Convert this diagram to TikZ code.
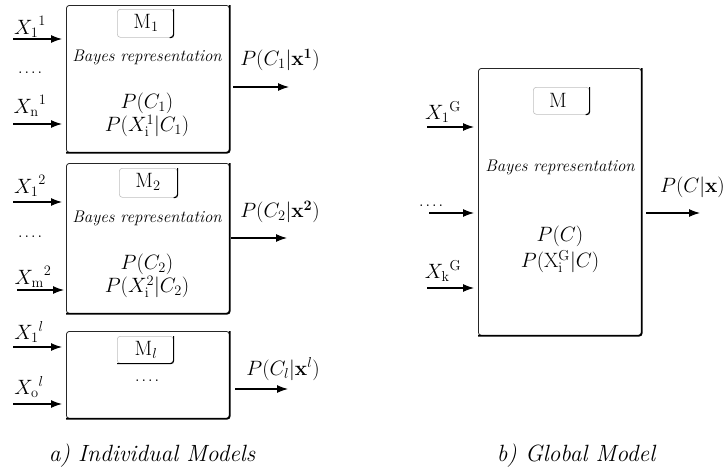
\documentclass[tikz,border=0pt]{standalone}
\usepackage{amsmath}
\usetikzlibrary{arrows.meta}
\newcommand{\fourdots}{.\kern1.5pt.\kern1.5pt.\kern1.5pt.}
\begin{document}
\begin{tikzpicture}[x=1pt,y=-1pt,
  mbox/.style={draw=black!85,line width=0.8pt,rounded corners=3pt},
  shade/.style={line width=1.8pt,rounded corners=3pt},
  tabbox/.style={draw=black!25,line width=0.6pt,rounded corners=3pt},
  tabedge/.style={line width=1.2pt,rounded corners=3pt},
  arr/.style={-{Latex[length=11pt,width=8pt]},line width=1.1pt},
  lbl/.style={inner sep=0pt,font=\fontsize{20}{21}\selectfont},
  dots/.style={inner sep=0pt,font=\fontsize{20}{21}\selectfont},
  two/.style={inner sep=0pt,align=center,font=\fontsize{20}{21.5}\selectfont},
  ital/.style={inner sep=0pt,font=\fontsize{16.8}{19}\selectfont\itshape},
  captxt/.style={inner sep=0pt,font=\fontsize{23.5}{26}\selectfont\itshape}]
\useasboundingbox (0,0) rectangle (726,472);

% ---------- Box 1 ----------
\node[mbox,minimum width=163pt,minimum height=147pt,anchor=north west] (b1) at (66,5) {};
\draw[shade] (b1.north east) -- (b1.south east) -- (b1.south west);
\node[tabbox,minimum width=56pt,minimum height=28pt,anchor=north west] (t1) at (117,9) {};
\draw[tabedge] (t1.north east) -- (t1.south east) -- ++(-4,0);
\node[lbl] (m1) at (146,23) {$\mathrm{M}_1$};
\node[ital] (br1) at (147,57) {Bayes representation};
\node[two] (p1) at (147,115) {$P(C_1)$\\$P(X_{\mathrm{i}}^1|C_1)$};
\node[lbl] (x11) at (30,27) {${X_1}^1$};
\node[dots,anchor=base] (d1) at (30,73) {\fourdots};
\node[lbl] (xn1) at (30,106) {${X_{\mathrm{n}}}^1$};
\coordinate (i11) at (13,39); \coordinate (e11) at (b1.west |- i11);
\coordinate (in1) at (13,124); \coordinate (en1) at (b1.west |- in1);
\draw[arr] (i11) -- ([xshift=-4pt]e11);
\draw[arr] (in1) -- ([xshift=-4pt]en1);
\coordinate (o1s) at (233,87); \coordinate (o1e) at (289,87);
\draw[arr] (o1s) -- (o1e);
\node[lbl] (po1) at (280,60) {$P(C_1|\mathbf{x^1})$};

% ---------- Box 2 ----------
\node[mbox,minimum width=163pt,minimum height=150pt,anchor=north west] (b2) at (66,163) {};
\draw[shade] (b2.north east) -- (b2.south east) -- (b2.south west);
\node[tabbox,minimum width=58pt,minimum height=29pt,anchor=north west] (t2) at (119,168) {};
\draw[tabedge] (t2.north east) -- (t2.south east) -- ++(-4,0);
\node[lbl] (m2) at (148,182) {$\mathrm{M}_2$};
\node[ital] (br2) at (147,218) {Bayes representation};
\node[two] (p2) at (147,276) {$P(C_2)$\\$P(X_{\mathrm{i}}^2|C_2)$};
\node[lbl] (x12) at (30,186) {${X_1}^2$};
\node[dots,anchor=base] (d2) at (30,237) {\fourdots};
\node[lbl] (xm2) at (33,277) {${X_{\mathrm{m}}}^2$};
\coordinate (i12) at (13,202); \coordinate (e12) at (b2.west |- i12);
\coordinate (im2) at (17,290); \coordinate (em2) at (b2.west |- im2);
\draw[arr] (i12) -- ([xshift=-4pt]e12);
\draw[arr] (im2) -- ([xshift=-2pt]em2);
\coordinate (o2s) at (231,238); \coordinate (o2e) at (287,238);
\draw[arr] (o2s) -- (o2e);
\node[lbl] (po2) at (280,212) {$P(C_2|\mathbf{x^2})$};

% ---------- Box 3 ----------
\node[mbox,minimum width=163pt,minimum height=87pt,anchor=north west] (b3) at (66,331) {};
\draw[shade] (b3.north east) -- (b3.south east) -- (b3.south west);
\node[tabbox,minimum width=56pt,minimum height=27pt,anchor=north west] (t3) at (117,336) {};
\draw[tabedge] (t3.north east) -- (t3.south east) -- (t3.south west);
\node[lbl] (m3) at (146,350) {$\mathrm{M}_l$};
\node[dots,anchor=base] (d3) at (147,381) {\fourdots};
\node[lbl] (x1l) at (29,332) {${X_1}^l$};
\node[lbl] (xol) at (29,387) {${X_{\mathrm{o}}}^l$};
\coordinate (i1l) at (13,347); \coordinate (e1l) at (b3.west |- i1l);
\coordinate (iol) at (13,404); \coordinate (eol) at (b3.west |- iol);
\draw[arr] (i1l) -- ([xshift=-4pt]e1l);
\draw[arr] (iol) -- ([xshift=-4pt]eol);
\coordinate (o3s) at (235,389); \coordinate (o3e) at (288,389);
\draw[arr] (o3s) -- (o3e);
\node[lbl] (po3) at (283,369) {$P(C_l|\mathbf{x}^l)$};

% ---------- Global box ----------
\node[mbox,minimum width=163pt,minimum height=267pt,anchor=north west] (g) at (478,68) {};
\draw[shade] (g.north east) -- (g.south east) -- (g.south west);
\node[tabbox,minimum width=56pt,minimum height=27pt,anchor=north west] (tg) at (533,87) {};
\draw[tabedge] (tg.north east) -- (tg.south east) -- ++(-4,0);
\node[lbl] (mg) at (558,100) {$\mathrm{M}$};
\node[ital] (brg) at (560,167) {Bayes representation};
\node[lbl] (pcg) at (560,236) {$P(C)$};
\node[lbl,anchor=north] (pxg) at (560,250) {$P(\mathrm{X}_{\mathrm{i}}^{\mathrm{G}}|C)$};
\node[lbl] (x1g) at (443,112) {${X_1}^{\mathrm{G}}$};
\node[dots,anchor=base] (dg) at (431,206) {\fourdots};
\node[lbl] (xkg) at (443,271) {${X_{\mathrm{k}}}^{\mathrm{G}}$};
\coordinate (i1g) at (427,127); \coordinate (e1g) at (g.west |- i1g);
\coordinate (idg) at (429,213); \coordinate (edg) at (g.west |- idg);
\coordinate (ikg) at (427,288); \coordinate (ekg) at (g.west |- ikg);
\draw[arr] (i1g) -- ([xshift=-4pt]e1g);
\draw[arr] (idg) -- ([xshift=-4pt]edg);
\draw[arr] (ikg) -- ([xshift=-4pt]ekg);
\coordinate (ogs) at (646,213); \coordinate (oge) at (700,213);
\draw[arr] (ogs) -- (oge);
\node[lbl,anchor=east] (pog) at (725,187) {$P(C|\mathbf{x})$};

% ---------- captions ----------
\node[captxt] (ca) at (152,456) {a) Individual Models};
\node[captxt] (cb) at (576,456) {b) Global Model};
\end{tikzpicture}
\end{document}
